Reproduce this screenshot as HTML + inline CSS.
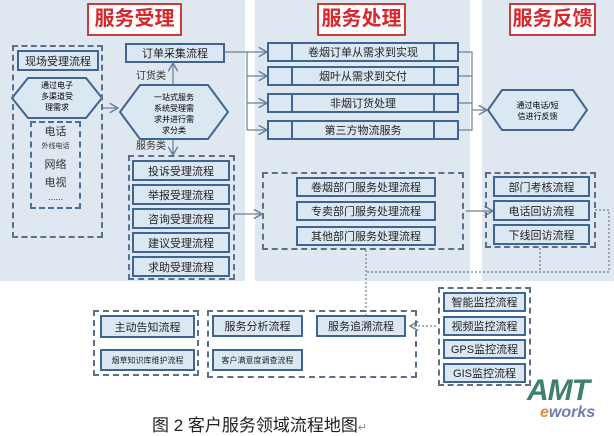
<!DOCTYPE html>
<html><head><meta charset="utf-8"><style>
body{margin:0;width:614px;height:436px;background:#fff;position:relative;overflow:hidden;font-family:"Liberation Sans","Noto Sans CJK SC",sans-serif}
.p{position:absolute;background:#dfe7f1}
.t{position:absolute;border:2px solid #d23a3a;background:#fff;color:#d8282d;font-size:20px;font-weight:bold;text-align:center;line-height:29px;box-sizing:border-box;white-space:nowrap;overflow:hidden}
.b{position:absolute;border:2px solid #3f6690;background:#dbe8f4;box-sizing:border-box;font-size:11px;color:#222;text-align:center;display:flex;align-items:center;justify-content:center;white-space:nowrap}
.d{position:absolute;border:2px dashed #5d7089;box-sizing:border-box}
.l{position:absolute;font-size:10px;color:#333}
svg{position:absolute;left:0;top:0}
</style></head><body>
<div class="p" style="left:0;top:0;width:245px;height:281px"></div>
<div class="p" style="left:255px;top:0;width:215px;height:281px"></div>
<div class="p" style="left:482px;top:0;width:132px;height:281px"></div>
<div class="t" style="left:87px;top:3px;width:95px;height:33px">服务受理</div>
<div class="t" style="left:317px;top:3px;width:89px;height:33px">服务处理</div>
<div class="t" style="left:509px;top:3px;width:87px;height:33px">服务反馈</div>

<svg width="614" height="436">
<defs><marker id="a" markerWidth="8" markerHeight="8" refX="7" refY="4" orient="auto"><path d="M0,0L7,4L0,8" fill="none" stroke="#6a7f99" stroke-width="1.2"/></marker></defs>
<polygon points="12,98 28,78 86,78 102,98 86,118 28,118" fill="#dbe8f4" stroke="#3f6690" stroke-width="2"/>
<polygon points="120,112 140,85 208,85 228,112 208,139 140,139" fill="#dbe8f4" stroke="#3f6690" stroke-width="2"/>
<polygon points="488,110 502,90 573,90 587,110 573,130 502,130" fill="#dbe8f4" stroke="#3f6690" stroke-width="2"/>
<g stroke="#6a7f99" stroke-width="1.2" fill="none">
<line x1="103" y1="108" x2="118" y2="108" marker-end="url(#a)"/>
<line x1="173" y1="85" x2="173" y2="63" marker-end="url(#a)"/>
<line x1="173" y1="139" x2="173" y2="155" marker-end="url(#a)"/>
<path d="M225,52H247V130"/>
<line x1="247" y1="52" x2="267" y2="52" marker-end="url(#a)"/>
<line x1="247" y1="76" x2="267" y2="76" marker-end="url(#a)"/>
<line x1="247" y1="103" x2="267" y2="103" marker-end="url(#a)"/>
<line x1="247" y1="130" x2="267" y2="130" marker-end="url(#a)"/>
<path d="M458,52H472V130H458M458,76H472M458,103H472"/>
<line x1="472" y1="110" x2="487" y2="110" marker-end="url(#a)"/>
<line x1="234" y1="214" x2="262" y2="214" marker-end="url(#a)"/>
<line x1="466" y1="211" x2="493" y2="211" marker-end="url(#a)"/>
</g>
<g stroke="#6a7f99" stroke-width="1.2" fill="none" stroke-dasharray="2,2">
<path d="M595,210H609V272H366M540,248V272M366,250V318"/>
<line x1="436" y1="326" x2="410" y2="326" marker-end="url(#a)"/>
</g>
</svg>
<div style="position:absolute;left:12px;top:80px;width:90px;font-size:8px;text-align:center;line-height:11px">通过电子<br>多渠道受<br>理需求</div>
<div style="position:absolute;left:135px;top:92px;width:78px;font-size:8px;text-align:center;line-height:11px">一站式服务<br>系统受理需<br>求并进行需<br>求分类</div>
<div style="position:absolute;left:500px;top:100px;width:75px;font-size:8px;text-align:center;line-height:11px">通过电话/短<br>信进行反馈</div>

<div class="d" style="left:12px;top:45px;width:91px;height:193px"></div>
<div class="b" style="left:17px;top:50px;width:82px;height:21px">现场受理流程</div>
<div class="d" style="left:30px;top:121px;width:51px;height:88px;border-color:#4a6f99"></div>
<div class="l" style="left:30px;top:123px;width:51px;text-align:center;font-size:11px">电话</div>
<div class="l" style="left:30px;top:141px;width:51px;text-align:center;font-size:7px">外线电话</div>
<div class="l" style="left:30px;top:156px;width:51px;text-align:center;font-size:11px">网络</div>
<div class="l" style="left:30px;top:174px;width:51px;text-align:center;font-size:11px">电视</div>
<div class="l" style="left:30px;top:192px;width:51px;text-align:center;font-size:9px">......</div>

<div class="b" style="left:125px;top:43px;width:100px;height:20px">订单采集流程</div>
<div class="l" style="left:136px;top:67px">订货类</div>
<div class="l" style="left:136px;top:137px">服务类</div>
<div class="d" style="left:128px;top:155px;width:107px;height:125px"></div>
<div class="b" style="left:132px;top:160px;width:98px;height:21px">投诉受理流程</div>
<div class="b" style="left:132px;top:184px;width:98px;height:21px">举报受理流程</div>
<div class="b" style="left:132px;top:208px;width:98px;height:21px">咨询受理流程</div>
<div class="b" style="left:132px;top:232px;width:98px;height:21px">建议受理流程</div>
<div class="b" style="left:132px;top:256px;width:98px;height:21px">求助受理流程</div>

<div class="b" style="left:267px;top:42px;width:192px;height:20px;justify-content:center"><span style="position:absolute;left:22px;top:0;bottom:0;border-left:2px solid #3f6690"></span><span style="position:absolute;right:22px;top:0;bottom:0;border-left:2px solid #3f6690"></span>卷烟订单从需求到实现</div>
<div class="b" style="left:267px;top:66px;width:192px;height:20px"><span style="position:absolute;left:22px;top:0;bottom:0;border-left:2px solid #3f6690"></span><span style="position:absolute;right:22px;top:0;bottom:0;border-left:2px solid #3f6690"></span>烟叶从需求到交付</div>
<div class="b" style="left:267px;top:93px;width:192px;height:20px"><span style="position:absolute;left:22px;top:0;bottom:0;border-left:2px solid #3f6690"></span><span style="position:absolute;right:22px;top:0;bottom:0;border-left:2px solid #3f6690"></span>非烟订货处理</div>
<div class="b" style="left:267px;top:120px;width:192px;height:20px"><span style="position:absolute;left:22px;top:0;bottom:0;border-left:2px solid #3f6690"></span><span style="position:absolute;right:22px;top:0;bottom:0;border-left:2px solid #3f6690"></span>第三方物流服务</div>

<div class="d" style="left:262px;top:172px;width:202px;height:78px"></div>
<div class="b" style="left:296px;top:177px;width:140px;height:20px">卷烟部门服务处理流程</div>
<div class="b" style="left:296px;top:201px;width:140px;height:20px">专卖部门服务处理流程</div>
<div class="b" style="left:296px;top:226px;width:140px;height:20px">其他部门服务处理流程</div>

<div class="d" style="left:485px;top:172px;width:111px;height:76px"></div>
<div class="b" style="left:493px;top:176px;width:97px;height:21px">部门考核流程</div>
<div class="b" style="left:493px;top:200px;width:97px;height:21px">电话回访流程</div>
<div class="b" style="left:493px;top:224px;width:97px;height:21px">下线回访流程</div>

<div class="d" style="left:93px;top:310px;width:106px;height:66px"></div>
<div class="b" style="left:100px;top:315px;width:95px;height:23px">主动告知流程</div>
<div class="b" style="left:100px;top:349px;width:95px;height:22px;font-size:8px">烟草知识库维护流程</div>
<div class="d" style="left:207px;top:310px;width:210px;height:68px"></div>
<div class="b" style="left:212px;top:315px;width:91px;height:22px">服务分析流程</div>
<div class="b" style="left:316px;top:315px;width:90px;height:22px">服务追溯流程</div>
<div class="b" style="left:212px;top:349px;width:91px;height:22px;font-size:8px">客户满意度调查流程</div>
<div class="d" style="left:438px;top:287px;width:93px;height:99px"></div>
<div class="b" style="left:443px;top:292px;width:83px;height:20px">智能监控流程</div>
<div class="b" style="left:443px;top:316px;width:83px;height:20px">视频监控流程</div>
<div class="b" style="left:443px;top:339px;width:83px;height:20px">GPS监控流程</div>
<div class="b" style="left:443px;top:363px;width:83px;height:20px">GIS监控流程</div>

<div style="position:absolute;left:527px;top:374px;font:italic bold 30px 'Liberation Sans',sans-serif;color:#3e7f6e;letter-spacing:-1px">AMT</div>
<div style="position:absolute;left:540px;top:404px;font:italic bold 16px 'Liberation Sans',sans-serif;color:#6a7fb0"><span style="color:#e88a3a">e</span>works</div>
<div style="position:absolute;left:152px;top:411px;font-size:17px;color:#222">图 2 客户服务领域流程地图<span style="font-size:11px;color:#888">↵</span></div>
</body></html>
